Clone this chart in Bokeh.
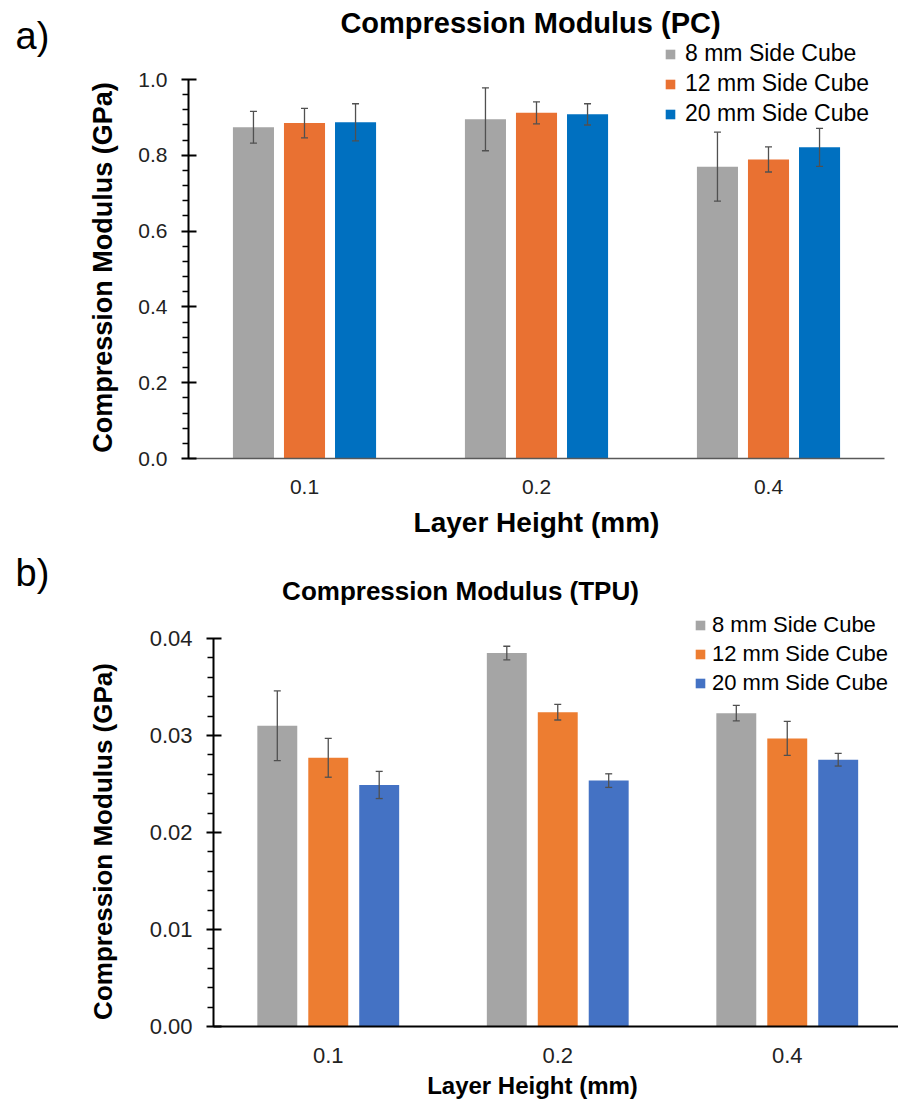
import math
from bokeh.plotting import figure
from bokeh.models import (Range1d, FixedTicker, NumeralTickFormatter,
                          ColumnDataSource, Whisker, TeeHead, Label)
from bokeh.embed import file_html
from bokeh.resources import INLINE

# ---------------- data ----------------
layers = ["0.1", "0.2", "0.4"]
series = ["8 mm Side Cube", "12 mm Side Cube", "20 mm Side Cube"]

pc_8 = [0.874, 0.895, 0.770]
pc_8_err = [0.042, 0.083, 0.091]
pc_12 = [0.885, 0.912, 0.789]
pc_12_err = [0.039, 0.029, 0.033]
pc_20 = [0.887, 0.908, 0.821]
pc_20_err = [0.049, 0.028, 0.050]

tpu_8 = [0.0310, 0.0385, 0.0323]
tpu_8_err = [0.0036, 0.0007, 0.0008]
tpu_12 = [0.0277, 0.0324, 0.0297]
tpu_12_err = [0.0020, 0.0008, 0.00175]
tpu_20 = [0.0249, 0.02535, 0.0275]
tpu_20_err = [0.0014, 0.0007, 0.00065]

pc_ticks = [0.0, 0.2, 0.4, 0.6, 0.8, 1.0]
pc_minor = [0.04, 0.08, 0.12, 0.16, 0.24, 0.28, 0.32, 0.36, 0.44, 0.48, 0.52, 0.56,
            0.64, 0.68, 0.72, 0.76, 0.84, 0.88, 0.92, 0.96]
tpu_ticks = [0.0, 0.01, 0.02, 0.03, 0.04]
tpu_minor = [0.002, 0.004, 0.006, 0.008, 0.012, 0.014, 0.016, 0.018, 0.022, 0.024,
             0.026, 0.028, 0.032, 0.034, 0.036, 0.038]

FONT = "Liberation Sans"
W = 898


def make_panel(cfg):
    H = cfg["height"]
    fl, step = cfg["frame_left"], cfg["step"]
    zy, ppu = cfg["zero_py"], cfg["ppu"]
    p = figure(width=W, height=H,
               x_range=Range1d(-fl / step, (W - fl) / step),
               y_range=Range1d(-(H - zy) / ppu, zy / ppu),
               output_backend="svg", toolbar_location=None, min_border=0)
    p.min_border_left = p.min_border_right = p.min_border_top = p.min_border_bottom = 0
    p.outline_line_color = None
    p.xgrid.visible = False
    p.ygrid.visible = False
    p.background_fill_color = "white"
    p.border_fill_color = "white"

    xs = [i + 0.5 for i in range(len(layers))]
    data = dict(x=xs)
    for key, vals, errs in zip(["s8", "s12", "s20"], cfg["vals"], cfg["errs"]):
        data[key] = vals
        data[key + "_up"] = [v + e for v, e in zip(vals, errs)]
        data[key + "_lo"] = [v - e for v, e in zip(vals, errs)]
    for key, off in zip(["s8", "s12", "s20"], cfg["offsets"]):
        data[key + "_x"] = [x + off for x in xs]
    src = ColumnDataSource(data)

    for key, name, color in zip(["s8", "s12", "s20"], series, cfg["colors"]):
        p.vbar(x=key + "_x", top=key, width=cfg["bw"], source=src,
               fill_color=color, line_color=None, legend_label=name)
    for key in ["s8", "s12", "s20"]:
        w = Whisker(base=key + "_x", upper=key + "_up", lower=key + "_lo", source=src,
                    line_color="#505050", line_width=1.3, level="overlay",
                    upper_head=TeeHead(size=7, line_color="#505050", line_width=1.3),
                    lower_head=TeeHead(size=7, line_color="#505050", line_width=1.3))
        p.add_layout(w)

    # y axis (fixed at the first category boundary)
    ya = p.yaxis[0]
    ya.fixed_location = 0
    ya.bounds = (0, cfg["ymax"])
    ya.ticker = FixedTicker(ticks=cfg["ticks"], minor_ticks=cfg["minor"])
    ya.formatter = NumeralTickFormatter(format=cfg["fmt"])
    ya.axis_line_color = "black"
    ya.axis_line_width = 2
    ya.major_tick_line_color = "black"
    ya.major_tick_line_width = 2
    ya.major_tick_in = 8
    ya.major_tick_out = 7
    ya.minor_tick_line_color = "black"
    ya.minor_tick_line_width = 1.5
    ya.minor_tick_in = 0
    ya.minor_tick_out = 6
    ya.major_label_text_font = FONT
    ya.major_label_text_font_size = cfg["tick_fs"]
    ya.major_label_text_color = "#222222"
    ya.major_label_standoff = 14

    # x axis (fixed at y = 0)
    xa = p.xaxis[0]
    xa.fixed_location = 0
    xa.bounds = (0, len(layers))
    xa.ticker = FixedTicker(ticks=xs)
    xa.major_label_overrides = {x: lab for x, lab in zip(xs, layers)}
    xa.axis_line_color = cfg["xline_color"]
    xa.axis_line_width = cfg["xline_width"]
    xa.major_tick_line_color = None
    xa.minor_tick_line_color = None
    xa.major_tick_in = 0
    xa.major_tick_out = 0
    xa.major_label_text_font = FONT
    xa.major_label_text_font_size = cfg["tick_fs"]
    xa.major_label_text_color = "#222222"
    xa.major_label_standoff = 21
    xa.major_label_orientation = "horizontal"

    # legend
    lg = p.legend[0]
    lg.location = cfg["leg_loc"]
    lg.orientation = "vertical"
    lg.border_line_color = None
    lg.background_fill_alpha = 0
    lg.padding = 0
    lg.margin = 0
    lg.spacing = cfg["leg_spacing"]
    lg.glyph_width = 12
    lg.glyph_height = 12
    lg.label_standoff = cfg["leg_standoff"]
    lg.label_text_font = FONT
    lg.label_text_font_size = cfg["leg_fs"]
    lg.label_text_color = "black"

    def add_text(text, pos, size, bold=True, align="center", angle=0.0):
        px, py = pos
        p.add_layout(Label(x=px, y=H - py, x_units="screen", y_units="screen",
                           text=text, text_font=FONT,
                           text_font_style="bold" if bold else "normal",
                           text_font_size=size, text_align=align,
                           text_baseline="middle", text_color="black", angle=angle))

    add_text(cfg["title"], cfg["title_pos"], cfg["title_fs"])
    add_text(cfg["tag"], cfg["tag_pos"], "38px", bold=False, align="left")
    add_text("Compression Modulus (GPa)", cfg["ylab_pos"], cfg["ylab_fs"], angle=math.pi / 2)
    add_text("Layer Height (mm)", cfg["xlab_pos"], cfg["xlab_fs"])
    return p


pa = make_panel(dict(
    height=540, frame_left=188, step=232, zero_py=458, ppu=379.0, ymax=1.0,
    vals=[pc_8, pc_12, pc_20], errs=[pc_8_err, pc_12_err, pc_20_err],
    colors=["#A5A5A5", "#E97132", "#0070C0"],
    offsets=[-0.22, 0.0, 0.22], bw=0.177,
    ticks=pc_ticks, minor=pc_minor, fmt="0.0", tick_fs="21px",
    xline_color="#595959", xline_width=1.5,
    leg_loc=(664, 413), leg_spacing=3, leg_standoff=9, leg_fs="23px",
    title="Compression Modulus (PC)", title_fs="29px", title_pos=(530, 22),
    tag="a)", tag_pos=(15, 35),
    ylab_pos=(102, 267), ylab_fs="27px",
    xlab_pos=(536, 522), xlab_fs="28px",
))

pb = make_panel(dict(
    height=562, frame_left=213, step=229.5, zero_py=486, ppu=388 / 0.04, ymax=0.04,
    vals=[tpu_8, tpu_12, tpu_20], errs=[tpu_8_err, tpu_12_err, tpu_20_err],
    colors=["#A5A5A5", "#ED7D31", "#4472C4"],
    offsets=[-0.222, 0.0, 0.222], bw=0.174,
    ticks=tpu_ticks, minor=tpu_minor, fmt="0.00", tick_fs="22px",
    xline_color="black", xline_width=2,
    leg_loc=(694, 406), leg_spacing=3, leg_standoff=6, leg_fs="22px",
    title="Compression Modulus (TPU)", title_fs="26px", title_pos=(460, 50),
    tag="b)", tag_pos=(15, 32),
    ylab_pos=(102, 301), ylab_fs="26px",
    xlab_pos=(532, 545), xlab_fs="24px",
))

open("out.html", "w").write(file_html([pa, pb], INLINE))
